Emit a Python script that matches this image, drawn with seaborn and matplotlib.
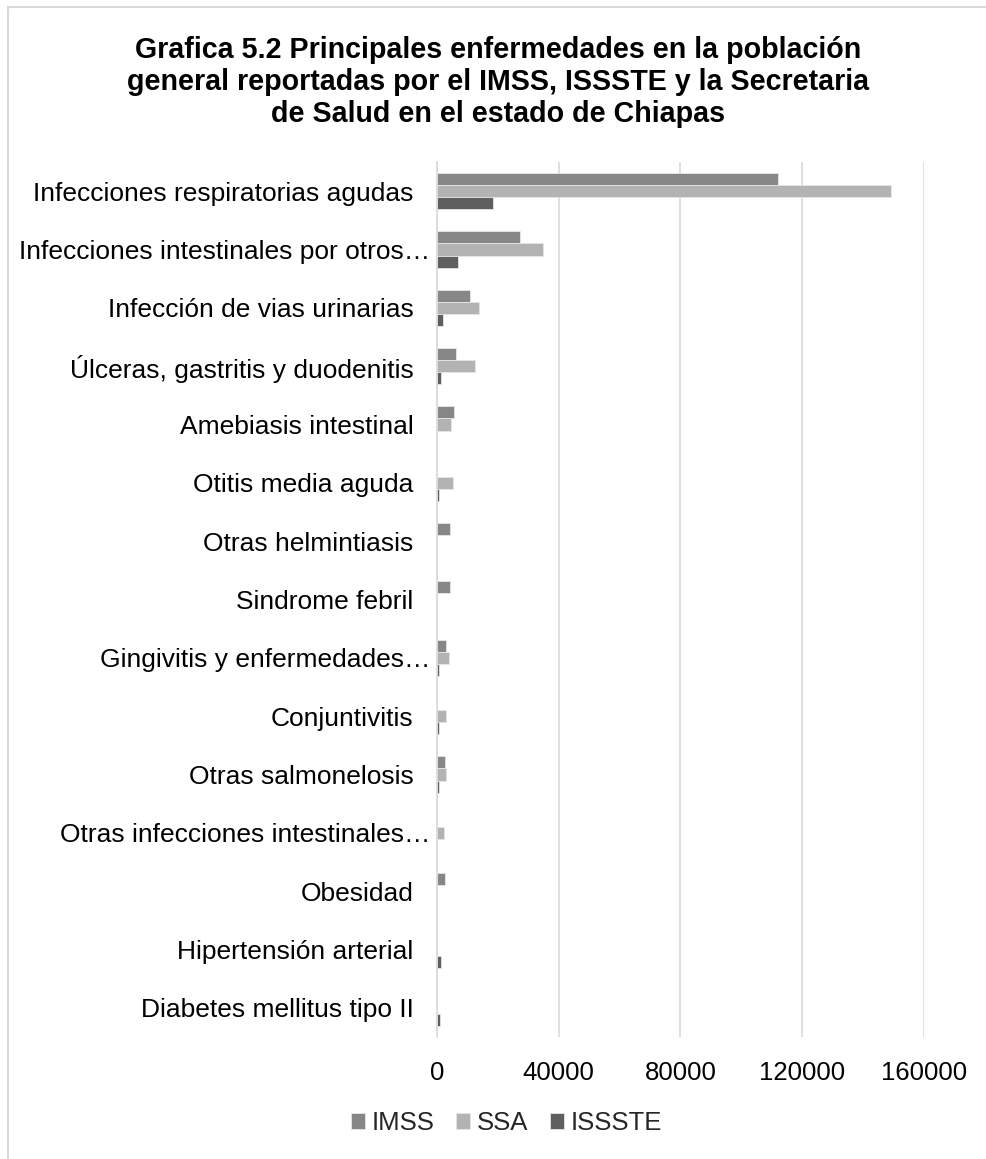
import pandas as pd
import matplotlib.pyplot as plt
import matplotlib.patches as mpatches
import matplotlib.transforms as mtransforms
import seaborn as sns

# Data
categories = [
    "Infecciones respiratorias agudas",
    "Infecciones intestinales por otros…",
    "Infección de vias urinarias",
    "Úlceras, gastritis y duodenitis",
    "Amebiasis intestinal",
    "Otitis media aguda",
    "Otras helmintiasis",
    "Sindrome febril",
    "Gingivitis y enfermedades…",
    "Conjuntivitis",
    "Otras salmonelosis",
    "Otras infecciones intestinales…",
    "Obesidad",
    "Hipertensión arterial",
    "Diabetes mellitus tipo II",
]
imss = [112000, 27300, 11000, 6200, 5500, 0, 4400, 4400, 2800, 0, 2600, 0, 2500, 0, 0]
ssa = [149200, 34700, 13800, 12400, 4500, 5100, 0, 0, 4100, 3000, 3000, 2300, 0, 0, 0]
issste = [18300, 7000, 2000, 1200, 0, 500, 0, 0, 500, 500, 700, 0, 0, 1200, 1000]
series = ["IMSS", "SSA", "ISSSTE"]
colors = {"IMSS": "#878787", "SSA": "#b3b3b3", "ISSSTE": "#5f5f5f"}
x_ticks = [0, 40000, 80000, 120000, 160000]

df = pd.DataFrame({"Enfermedad": categories, "IMSS": imss, "SSA": ssa, "ISSSTE": issste})
long_df = df.melt(id_vars="Enfermedad", var_name="Fuente", value_name="Casos")

sns.set_style("white")
plt.rcParams["font.family"] = ["Liberation Sans", "DejaVu Sans"]

fig = plt.figure(figsize=(9.87, 11.59), dpi=100)
ax = fig.add_axes([437 / 987, 1 - 1037 / 1159, (924 - 437) / 987, (1037 - 162) / 1159])

sns.barplot(
    data=long_df, y="Enfermedad", x="Casos", hue="Fuente", hue_order=series,
    order=categories, palette=colors, orient="h", width=0.62, ax=ax,
    saturation=1, edgecolor="#e6e6e6", linewidth=0.6,
)

ax.set_xlim(0, 160000)
ax.set_xticks(x_ticks)
ax.set_xticklabels([str(t) for t in x_ticks])
ax.set_xlabel("")
ax.set_ylabel("")
ax.grid(axis="x", color="#d9d9d9", linewidth=1.2)
ax.set_axisbelow(True)
for side in ["top", "right", "bottom"]:
    ax.spines[side].set_visible(False)
ax.spines["left"].set_color("#d9d9d9")
ax.spines["left"].set_linewidth(1.2)
ax.tick_params(axis="x", length=0, pad=17, labelsize=18.5, colors="#000000")
ax.tick_params(axis="y", length=0, pad=17, labelsize=19, colors="#000000")

# truncated labels: the ellipsis hangs past the right edge of the other labels
shift = mtransforms.ScaledTranslation(17 / 100, 0, fig.dpi_scale_trans)
for lbl in ax.get_yticklabels():
    if lbl.get_text().endswith("…"):
        lbl.set_transform(lbl.get_transform() + shift)

fig.text(0.505, 1 - 82 / 1159,
         "Grafica 5.2 Principales enfermedades en la población\n"
         "general reportadas por el IMSS, ISSSTE y la Secretaria\n"
         "de Salud en el estado de Chiapas",
         ha="center", va="center", fontsize=20.6, fontweight="bold",
         linespacing=1.16, color="#000000")

sns.move_legend(ax, "center", bbox_to_anchor=(0.513, 1 - 1123 / 1159),
                bbox_transform=fig.transFigure, ncol=3, frameon=False, title=None,
                fontsize=18.5, handlelength=0.55, handleheight=0.55,
                handletextpad=0.25, columnspacing=0.85)

# outer chart border (only top and left edges are inside the image)
fig.patches.append(mpatches.Rectangle((8.5 / 987, -0.01), 1.0, 1 - 7 / 1159 + 0.01,
                                      transform=fig.transFigure, fill=False,
                                      edgecolor="#d9d9d9", linewidth=1.5))

fig.savefig("out.png", dpi=100)
